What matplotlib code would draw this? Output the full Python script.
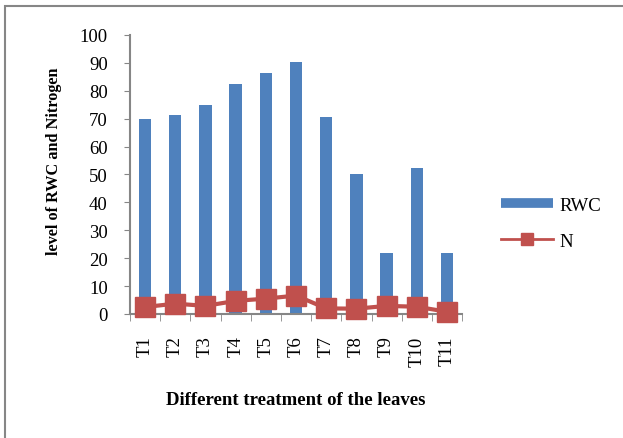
import matplotlib.pyplot as plt
from matplotlib.patches import Rectangle
from matplotlib.lines import Line2D
import numpy as np

treatments = ['T1', 'T2', 'T3', 'T4', 'T5', 'T6', 'T7', 'T8', 'T9', 'T10', 'T11']
rwc = [70, 71.5, 75, 82.5, 86.5, 90.5, 70.5, 50, 22, 52.5, 22]
nitrogen = [2.5, 3.7, 2.9, 4.7, 5.5, 6.6, 2.0, 1.9, 2.9, 2.6, 0.8]

bar_color = '#4F81BD'
line_color = '#C0504D'
axis_color = '#868686'
fs = 13.5

plt.rcParams['font.family'] = ['Liberation Serif', 'DejaVu Serif']

fig = plt.figure(figsize=(6.23, 4.39), dpi=100)
ax = fig.add_axes([0.2087, 0.2825, 0.533, 0.6355])

x = np.arange(len(treatments))
ax.bar(x, rwc, width=0.41, color=bar_color, zorder=2)
ax.plot(x, nitrogen, color=line_color, linewidth=3, marker='s', markersize=14,
        markeredgecolor=line_color, zorder=3, clip_on=False)

ax.set_xlim(-0.5, len(treatments) - 0.5)
ax.set_ylim(0, 100)
ax.set_yticks(range(0, 101, 10))
ax.set_xticks(x)
ax.set_xticklabels(treatments, rotation=90, fontsize=fs)
ax.set_xticks(np.arange(-0.5, len(treatments)), minor=True)
ax.tick_params(axis='x', which='major', length=0, pad=15.5)
ax.tick_params(axis='x', which='minor', length=5, color=axis_color, direction='out')
ax.tick_params(axis='y', length=4, color=axis_color, labelsize=fs, pad=12)

for side in ('top', 'right'):
    ax.spines[side].set_visible(False)
for side in ('left', 'bottom'):
    ax.spines[side].set_color(axis_color)
    ax.spines[side].set_linewidth(1.5)

ax.set_ylabel('level of RWC and Nitrogen', fontsize=11.7, fontweight='bold')
ax.yaxis.set_label_coords(-0.205, 0.552)
ax.set_xlabel('Different treatment of the leaves', fontsize=fs, fontweight='bold', labelpad=18)

handles = [
    Line2D([], [], color=bar_color, linewidth=7, solid_capstyle='butt'),
    Line2D([], [], color=line_color, linewidth=2, marker='s', markersize=8),
]
fig.legend(handles, ['RWC', 'N'], loc='center left', bbox_to_anchor=(0.777, 0.489),
           frameon=False, fontsize=fs, handlelength=2.8, labelspacing=1.0,
           handletextpad=0.3)

# outer chart frame
fig.patches.append(Rectangle((5 / 623, -0.05), 1.1, 1 - 7 / 439 + 0.05,
                             transform=fig.transFigure, fill=False,
                             edgecolor=axis_color, linewidth=1.5))

fig.savefig('out.png', dpi=100)
